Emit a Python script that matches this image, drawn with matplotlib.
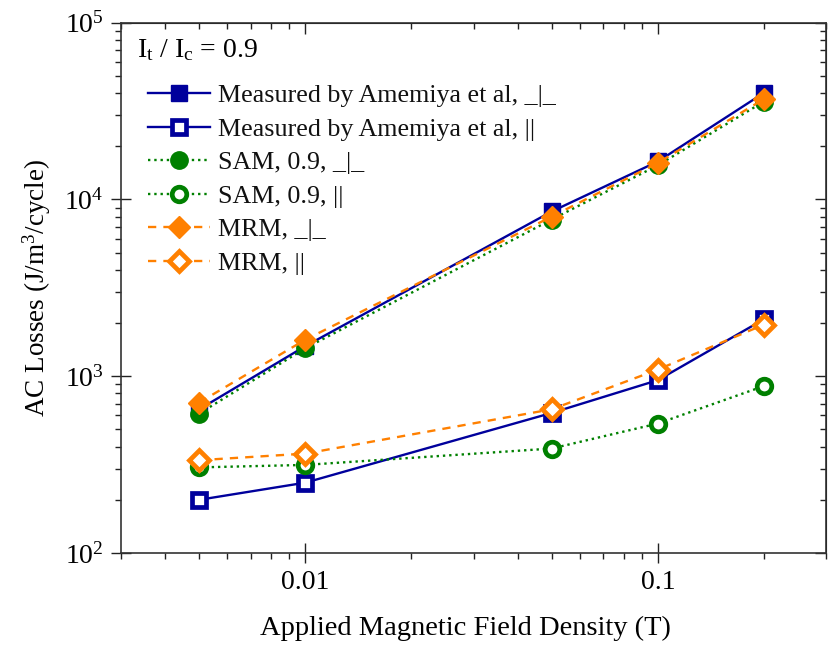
import matplotlib
matplotlib.use("Agg")
import matplotlib.pyplot as plt
from matplotlib.ticker import LogLocator, FixedLocator, FixedFormatter, NullFormatter, LogFormatterMathtext

plt.rcParams['font.family'] = ['Liberation Serif', 'DejaVu Serif']
plt.rcParams['mathtext.fontset'] = 'custom'
plt.rcParams['mathtext.rm'] = 'Liberation Serif'
plt.rcParams['mathtext.it'] = 'Liberation Serif:italic'

# data
field = [0.005, 0.01, 0.05, 0.1, 0.2]
meas_perp = [650, 1480, 8550, 16400, 40100]
meas_par = [200, 250, 620, 950, 2100]
sam_perp = [615, 1440, 7700, 15600, 35800]
sam_par = [305, 315, 390, 540, 880]
mrm_perp = [710, 1610, 8000, 16100, 37000]
mrm_par = [335, 365, 650, 1090, 1960]
labels = ["Measured by Amemiya et al, _|_", "Measured by Amemiya et al, ||",
          "SAM, 0.9, _|_", "SAM, 0.9, ||", "MRM, _|_", "MRM, ||"]
x_ticks = [0.01, 0.1]
x_ticklabels = ["0.01", "0.1"]

blue = '#00009C'
green = '#008000'
orange = '#FF8000'

fig = plt.figure(figsize=(8.3, 6.46), dpi=100)
ax = fig.add_axes([121/830, 1-553/646, (826-121)/830, (553-22.7)/646])

lw = 1.7
mew = 3.4
dash = (3.5, 3)
ax.plot(field, meas_perp, '-', color=blue, lw=lw, marker='s', ms=11, mfc=blue, mec=blue, mew=1, label=labels[0], zorder=3)
ax.plot(field, meas_par, '-', color=blue, lw=lw, marker='s', ms=9.5, mfc='white', mec=blue, mew=mew, label=labels[1], zorder=3)
ax.plot(field, sam_perp, ':', color=green, lw=lw, marker='o', ms=12.5, mfc=green, mec=green, mew=1, label=labels[2], zorder=3)
ax.plot(field, sam_par, ':', color=green, lw=lw, marker='o', ms=10.5, mfc='white', mec=green, mew=mew, label=labels[3], zorder=3)
ax.plot(field, mrm_perp, '--', color=orange, lw=lw, marker='D', ms=11.5, mfc=orange, mec=orange, mew=1, label=labels[4], dashes=dash, zorder=3)
ax.plot(field, mrm_par, '--', color=orange, lw=lw, marker='D', ms=10, mfc='white', mec=orange, mew=mew, label=labels[5], dashes=dash, zorder=3)

ax.set_xscale('log')
ax.set_yscale('log')
ax.set_xlim(0.003, 0.3)
ax.set_ylim(100, 100000)

ax.xaxis.set_major_locator(FixedLocator(x_ticks))
ax.xaxis.set_major_formatter(FixedFormatter(x_ticklabels))
ax.xaxis.set_minor_locator(LogLocator(base=10, subs=range(2, 10)))
ax.xaxis.set_minor_formatter(NullFormatter())
ax.yaxis.set_major_locator(LogLocator(base=10))
ax.yaxis.set_major_formatter(LogFormatterMathtext())
ax.yaxis.set_minor_locator(LogLocator(base=10, subs=range(2, 10)))
ax.yaxis.set_minor_formatter(NullFormatter())

ax.tick_params(which='major', direction='inout', length=15, width=1, pad=6, color='#222222')
ax.tick_params(axis='y', which='major', labelsize=20, pad=5)
ax.tick_params(axis='x', which='major', labelsize=20, pad=5)
ax.tick_params(which='minor', direction='out', length=4, width=1, color='#222222')
for s in ax.spines.values():
    s.set_linewidth(1.2)
    s.set_color('#333333')

# mirrored inward ticks on top and right
top = ax.secondary_xaxis('top')
top.xaxis.set_major_locator(FixedLocator(x_ticks))
top.xaxis.set_minor_locator(LogLocator(base=10, subs=range(2, 10)))
top.tick_params(which='major', direction='in', length=8, width=1, labeltop=False, color='#222222')
top.tick_params(which='minor', direction='in', length=4.5, width=1, color='#222222')
top.xaxis.set_major_formatter(NullFormatter())
top.xaxis.set_minor_formatter(NullFormatter())
right = ax.secondary_yaxis('right')
right.yaxis.set_major_locator(LogLocator(base=10))
right.yaxis.set_minor_locator(LogLocator(base=10, subs=range(2, 10)))
right.tick_params(which='major', direction='in', length=8, width=1, labelright=False, color='#222222')
right.tick_params(which='minor', direction='in', length=4.5, width=1, color='#222222')
right.yaxis.set_major_formatter(NullFormatter())
right.yaxis.set_minor_formatter(NullFormatter())

ax.set_xlabel('Applied Magnetic Field Density (T)', fontsize=20.5)
ax.xaxis.set_label_coords(0.488, -0.118)
ax.set_ylabel('AC Losses (J/m$^3$/cycle)', fontsize=19.5, labelpad=8)

ax.text(137/830, 1-50/646, r'I$_\mathrm{t}$ / I$_\mathrm{c}$ = 0.9', transform=fig.transFigure,
        fontsize=20, va='center', ha='left')

leg = ax.legend(loc='upper left', bbox_to_anchor=(148/830, 1-84/646), bbox_transform=fig.transFigure,
                frameon=False, fontsize=18.7, handlelength=2.4, handletextpad=0.3, labelspacing=0.4,
                borderaxespad=0, borderpad=0, numpoints=1)
for t in leg.get_texts():
    t.set_color('#111111')

fig.savefig('out.png', dpi=100)
